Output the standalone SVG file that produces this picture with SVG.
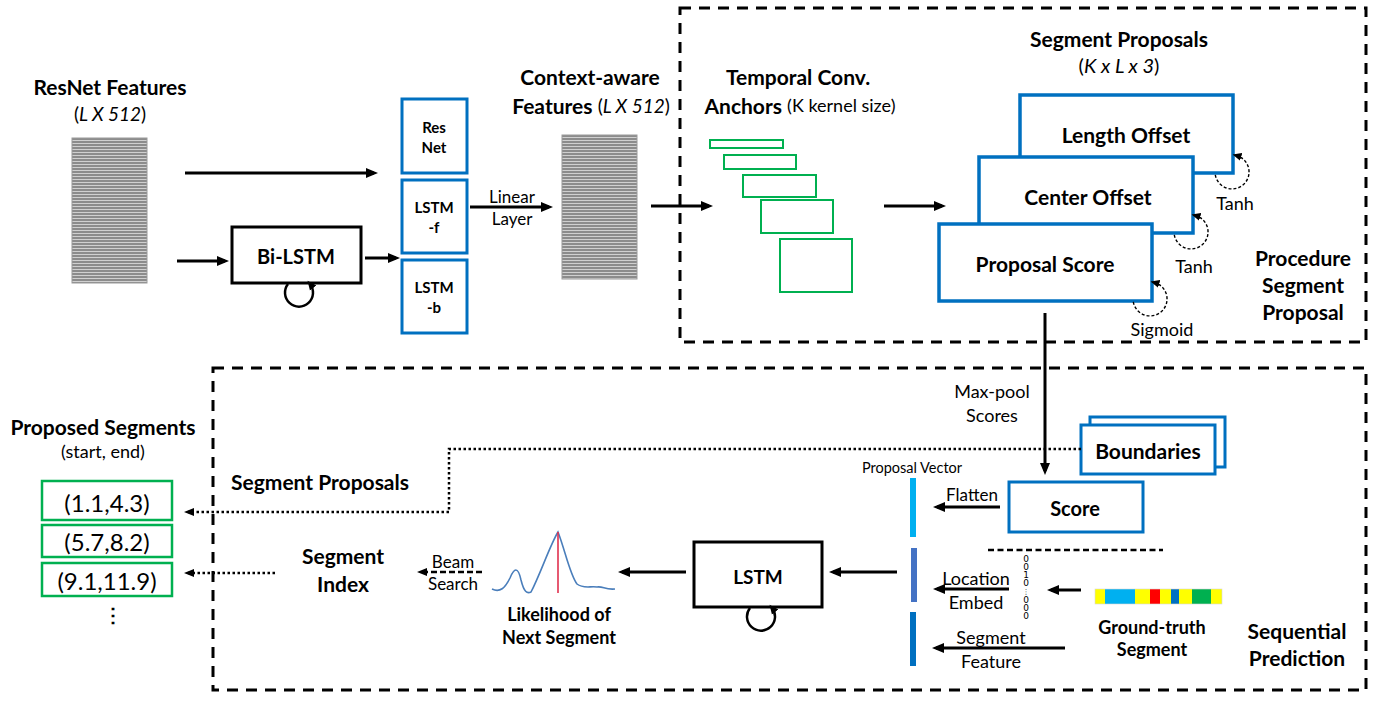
<svg xmlns="http://www.w3.org/2000/svg" width="1377" height="704" viewBox="0 0 1377 704">
<style>
text{font-family:Lato,"Liberation Sans",sans-serif;fill:#000;dominant-baseline:central;text-anchor:middle}
.b{font-weight:bold}
.h{font-size:21px;font-weight:bold}
.t20{font-size:20px}
.t19{font-size:19px}
.t18{font-size:18px}
.t17{font-size:17px}
.t15{font-size:15px}
.i{font-style:italic}
.n{font-weight:normal}
.blue{fill:#fff;stroke:#0070C0;stroke-width:3.5}
.blue3{fill:#fff;stroke:#0070C0;stroke-width:3}
.blk{fill:#fff;stroke:#000;stroke-width:3}
.grn{fill:none;stroke:#00B050;stroke-width:2}
.grn2{fill:#fff;stroke:#00B050;stroke-width:2.5}
.frame{fill:none;stroke:#000;stroke-width:3;stroke-dasharray:11 8}
.arr{fill:none;stroke:#000;stroke-width:3;marker-end:url(#ah)}
.dot{fill:none;stroke:#000;stroke-width:2.5;stroke-dasharray:2.5 2.5;marker-end:url(#ahs)}
.dash{fill:none;stroke:#000;stroke-width:2.5;stroke-dasharray:6 3;marker-end:url(#ahs)}
.loop{fill:none;stroke:#000;stroke-width:2.5;marker-end:url(#ahl)}
.dloop{fill:none;stroke:#000;stroke-width:1.4;stroke-dasharray:3 2;marker-end:url(#ahl)}
.feat{fill:url(#stripes);stroke:#9a9a9a;stroke-width:1}
.oh{font-size:9px;font-family:"DejaVu Sans",sans-serif}
</style>
<defs>
<pattern id="stripes" patternUnits="userSpaceOnUse" width="10" height="3">
<rect width="10" height="3" fill="#8c8c8c"/>
<rect y="2" width="10" height="1" fill="#d0d0d0"/>
</pattern>
<marker id="ah" markerUnits="userSpaceOnUse" markerWidth="13" markerHeight="11" refX="8" refY="5.5" orient="auto"><path d="M0,0.5 L12,5.5 L0,10.5 z" fill="#000"/></marker>
<marker id="ahs" markerUnits="userSpaceOnUse" markerWidth="11" markerHeight="10" refX="6" refY="5" orient="auto"><path d="M0,1 L10,5 L0,9 z" fill="#000"/></marker>
<marker id="ahl" markerUnits="userSpaceOnUse" markerWidth="10" markerHeight="9" refX="5" refY="4.5" orient="auto"><path d="M0,0.5 L9,4.5 L0,8.5 z" fill="#000"/></marker>
</defs>
<rect width="1377" height="704" fill="#fff"/>

<g id="frames">
<rect class="frame" x="680" y="8" width="686" height="334"/>
<rect class="frame" x="213" y="368" width="1153" height="322"/>
</g>

<g id="resnet-features">
<text class="h" x="110" y="86">ResNet Features</text>
<text class="t19" x="110" y="113">(<tspan class="i">L X 512</tspan>)</text>
<rect class="feat" x="72" y="138" width="75" height="145"/>
</g>

<g id="bilstm">
<rect class="blk" x="232" y="227" width="129" height="56"/>
<text class="b t20" x="296" y="256">Bi-LSTM</text>
</g>

<g id="resnet-box">
<rect class="blue3" x="402" y="99" width="65" height="74"/>
<text class="b t15" x="434" y="127">Res</text>
<text class="b t15" x="434" y="147">Net</text>
</g>
<g id="lstm-f">
<rect class="blue3" x="402" y="180" width="65" height="73"/>
<text class="b t15" x="434" y="207">LSTM</text>
<text class="b t15" x="434" y="227">-f</text>
</g>
<g id="lstm-b">
<rect class="blue3" x="402" y="260" width="65" height="73"/>
<text class="b t15" x="434" y="287">LSTM</text>
<text class="b t15" x="434" y="307">-b</text>
</g>

<g id="context-features">
<text class="h" x="590" y="76">Context-aware</text>
<text class="h" x="591" y="105">Features <tspan class="n t19">(<tspan class="i">L X 512</tspan>)</tspan></text>
<rect class="feat" x="562" y="135" width="75" height="144"/>
</g>

<g id="anchors">
<text class="h" x="798" y="76">Temporal Conv.</text>
<text class="h" x="800" y="105">Anchors <tspan class="n t18">(K kernel size)</tspan></text>
<rect class="grn" x="710" y="140" width="73" height="8"/>
<rect class="grn" x="724" y="155" width="72" height="14"/>
<rect class="grn" x="743" y="175" width="73" height="22"/>
<rect class="grn" x="761" y="200" width="72" height="33"/>
<rect class="grn" x="780" y="239" width="72" height="53"/>
</g>

<g id="segment-proposals">
<text class="h" x="1119" y="38">Segment Proposals</text>
<text class="t20" x="1119" y="65">(<tspan class="i">K x L x 3</tspan>)</text>
<rect class="blue" x="1020" y="95" width="213" height="78"/>
<text class="h" x="1126" y="134">Length Offset</text>
<rect class="blue" x="979" y="157" width="214" height="76"/>
<text class="h" x="1088" y="196">Center Offset</text>
<rect class="blue" x="939" y="224" width="213" height="77"/>
<text class="h" x="1045" y="263">Proposal Score</text>
<text class="t18" x="1235" y="203">Tanh</text>
<text class="t18" x="1194" y="266">Tanh</text>
<text class="t18" x="1162" y="329">Sigmoid</text>
</g>

<g id="procedure-label">
<text class="h" x="1303" y="257">Procedure</text>
<text class="h" x="1303" y="284">Segment</text>
<text class="h" x="1303" y="311">Proposal</text>
</g>

<g id="boundaries">
<rect class="blue3" x="1090" y="417" width="135" height="50"/>
<rect class="blue3" x="1081" y="425" width="134" height="49"/>
<text class="h" x="1148" y="450">Boundaries</text>
</g>

<g id="score">
<rect class="blue3" x="1009" y="482" width="134" height="50"/>
<text class="b t20" x="1075" y="508">Score</text>
</g>

<g id="proposal-vector">
<text style="font-size:14.5px" x="912" y="467">Proposal Vector</text>
<rect x="910" y="478" width="6" height="59" fill="#00B0F0"/>
<rect x="911" y="548" width="6" height="54" fill="#4472C4"/>
<rect x="910" y="612" width="6" height="54" fill="#0070C0"/>
</g>

<g id="one-hot">
<text class="oh" x="1026" y="559">0</text>
<text class="oh" x="1026" y="567">0</text>
<text class="oh" x="1026" y="575">1</text>
<text class="oh" x="1026" y="583">0</text>
<text class="oh" style="font-size:7px" x="1026" y="592">⋮</text>
<text class="oh" x="1026" y="600">0</text>
<text class="oh" x="1026" y="608">0</text>
<text class="oh" x="1026" y="616">0</text>
</g>

<g id="ground-truth">
<rect x="1095" y="589" width="10" height="15" fill="#FFFF00"/>
<rect x="1105" y="589" width="30" height="15" fill="#00B0F0"/>
<rect x="1135" y="589" width="15" height="15" fill="#FFFF00"/>
<rect x="1150" y="589" width="10" height="15" fill="#FF0000"/>
<rect x="1160" y="589" width="11" height="15" fill="#FFFF00"/>
<rect x="1171" y="589" width="8" height="15" fill="#0070C0"/>
<rect x="1179" y="589" width="13" height="15" fill="#FFFF00"/>
<rect x="1192" y="589" width="19" height="15" fill="#00B050"/>
<rect x="1211" y="589" width="11" height="15" fill="#FFFF00"/>
<rect x="1095" y="589" width="127" height="15" fill="none" stroke="#d8d8d8" stroke-width="0.6"/>
<text class="b t18" x="1152" y="627">Ground-truth</text>
<text class="b t18" x="1152" y="649">Segment</text>
</g>

<g id="sequential-label">
<text class="h" x="1297" y="630">Sequential</text>
<text class="h" x="1297" y="657">Prediction</text>
</g>

<g id="lstm">
<rect class="blk" x="694" y="542" width="128" height="65"/>
<text class="b t19" x="758" y="576">LSTM</text>
</g>

<g id="likelihood">
<path d="M492 589 C500 593 505 588 510 578 C514 568 518 566 521 580 C524 592 527 594 531 592 C540 575 550 545 558 532 C565 550 570 575 577 584 C583 589 590 586 597 587 C603 586 605 590 615 589" fill="none" stroke="#4A7EBB" stroke-width="1.6"/>
<line x1="558" y1="532" x2="558" y2="593" stroke="#E0304E" stroke-width="1.6"/>
<text class="b t18" x="559" y="614">Likelihood of</text>
<text class="b t18" x="559" y="637">Next Segment</text>
</g>

<g id="segment-index">
<text class="h" x="343" y="555">Segment</text>
<text class="h" x="343" y="583">Index</text>
</g>

<g id="proposed-segments">
<text class="h" x="103" y="426">Proposed Segments</text>
<text class="t18" x="103" y="451">(start, end)</text>
<rect class="grn2" x="42" y="481" width="130" height="39"/>
<text style="font-size:24px" x="107" y="502">(1.1,4.3)</text>
<rect class="grn2" x="42" y="525" width="130" height="32"/>
<text style="font-size:24px" x="107" y="541">(5.7,8.2)</text>
<rect class="grn2" x="42" y="563" width="130" height="33"/>
<text style="font-size:24px" x="107" y="580">(9.1,11.9)</text>
<text class="b t20" x="113" y="614">⋮</text>
</g>

<g id="connectors">
<path class="arr" d="M185 173 H374"/>
<path class="arr" d="M177 261 H225"/>
<path class="arr" d="M365 258 H396"/>
<path class="arr" d="M470 207 H549"/>
<path class="arr" d="M651 206 H709"/>
<path class="arr" d="M884 206 H942"/>
<path class="arr" d="M1045 313 V471"/>
<path class="arr" d="M1000 507 H937"/>
<path class="arr" d="M1009 589 H937"/>
<path class="arr" d="M1065 648 H936"/>
<path class="arr" d="M1081 590 H1051"/>
<path class="arr" d="M897 572 H833"/>
<path class="arr" d="M686 572 H622"/>
<path class="dash" d="M482 572 H421"/>
<path class="dot" d="M1081 449 H449 V512 H188"/>
<path class="dot" d="M275 573 H188"/>
<path class="loop" d="M288 284 A14 14 0 1 0 310 284"/>
<path class="loop" d="M750 608 A14 14 0 1 0 772 608"/>
<path class="dloop" d="M1215.3 174.9 A17 17 0 1 0 1236.4 155.5"/>
<path class="dloop" d="M1174.3 234.9 A17 17 0 1 0 1195.4 215.5"/>
<path class="dloop" d="M1133.3 301.9 A17 17 0 1 0 1154.4 282.5"/>
<text class="t17" x="512" y="196">Linear</text>
<text class="t17" x="512" y="218">Layer</text>
<text class="t18" x="992" y="391">Max-pool</text>
<text class="t18" x="992" y="415">Scores</text>
<text class="t17" x="972" y="494">Flatten</text>
<text class="t18" x="976" y="578">Location</text>
<text class="t18" x="976" y="602">Embed</text>
<text class="t18" x="991" y="637">Segment</text>
<text class="t18" x="991" y="661">Feature</text>
<text class="t17" x="453" y="561">Beam</text>
<text class="t17" x="453" y="583">Search</text>
<text class="h" x="320" y="481">Segment Proposals</text>
<line x1="988" y1="550" x2="1163" y2="550" stroke="#000" stroke-width="2.5" stroke-dasharray="6 3.5"/>
</g>
</svg>
